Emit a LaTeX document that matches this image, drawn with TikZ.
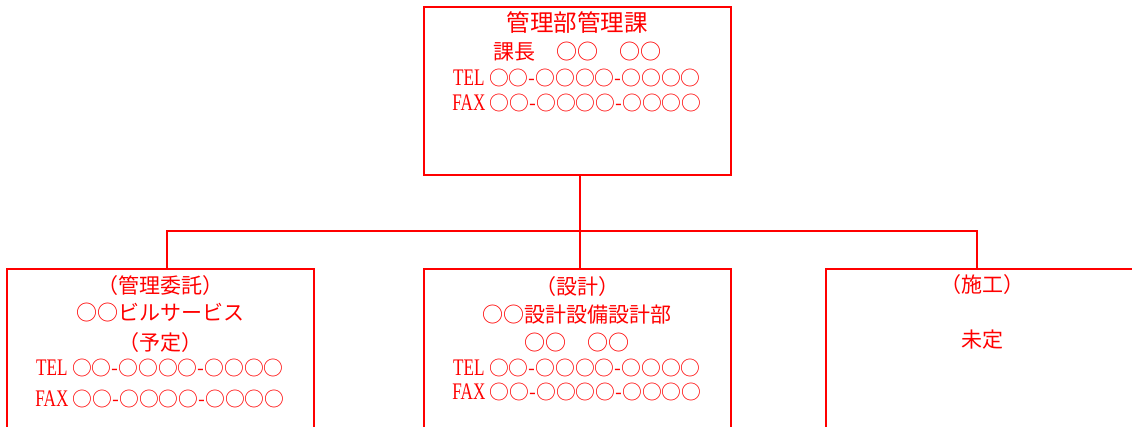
\documentclass[tikz,border=0pt]{standalone}
\usepackage{fontspec}
\setmainfont{Noto Sans CJK JP}
\newfontfamily\latn[FakeStretch=0.72,Scale=1.2]{Liberation Serif}
\newcommand{\telno}{○○-○○○○-○○○○}

\begin{document}
\begin{tikzpicture}[x=1pt,y=-1pt,line width=1.8pt,
    box/.style={draw=red,minimum width=307pt,minimum height=#1,inner sep=0pt},
    txt/.style={text=red,anchor=base,inner sep=0pt,font=\fontsize{21}{21}\selectfont},
    tel/.style={txt,font=\fontsize{19.8}{19.8}\selectfont}]
      \clip (0,0) rectangle (1132,427);
      % boxes
      \node [box=168pt] (kanri) at (577.5,91) {};
      \node [box=220pt] (itaku) at (160.5,379) {};
      \node [box=220pt] (sekkei) at (577.5,379) {};
      \node [box=220pt] (seko) at (979.5,379) {};
      % connectors
      \coordinate (busL) at (167,231);
      \coordinate (busM) at (580,231);
      \coordinate (busR) at (977,231);
      \draw [red] (busM |- kanri.south) -- (busM |- sekkei.north);
      \draw [red] (busL |- itaku.north) -- (busL) -- (busR) -- (busR |- seko.north);
      % texts
      \node [txt,font=\fontsize{23.5}{23.5}\selectfont] (kanri1) at (577,31.5) {管理部管理課};
      \node [txt] (kanri2) at (577,60) {課長　○○　○○};
      \node [tel] (kanri3) at (577,86) {{\latn TEL} \telno};
      \node [tel] (kanri4) at (577,111) {{\latn FAX} \telno};
      \node [txt] (itaku1) at (160,294) {（管理委託）};
      \node [txt] (itaku2) at (160,321) {○○ビルサービス};
      \node [txt] (itaku3) at (160,351) {（予定）};
      \node [tel] (itaku4) at (160,375) {{\latn TEL} \telno};
      \node [tel] (itaku5) at (160,406) {{\latn FAX} \telno};
      \node [txt] (sekkei1) at (577,295) {（設計）};
      \node [txt] (sekkei2) at (577,323) {○○設計設備設計部};
      \node [txt] (sekkei3) at (577,351) {○○　○○};
      \node [tel] (sekkei4) at (577,375) {{\latn TEL} \telno};
      \node [tel] (sekkei5) at (577,399.5) {{\latn FAX} \telno};
      \node [txt] (seko1) at (982,293) {（施工）};
      \node [txt] (seko2) at (982,348) {未定};
\end{tikzpicture}
\end{document}
